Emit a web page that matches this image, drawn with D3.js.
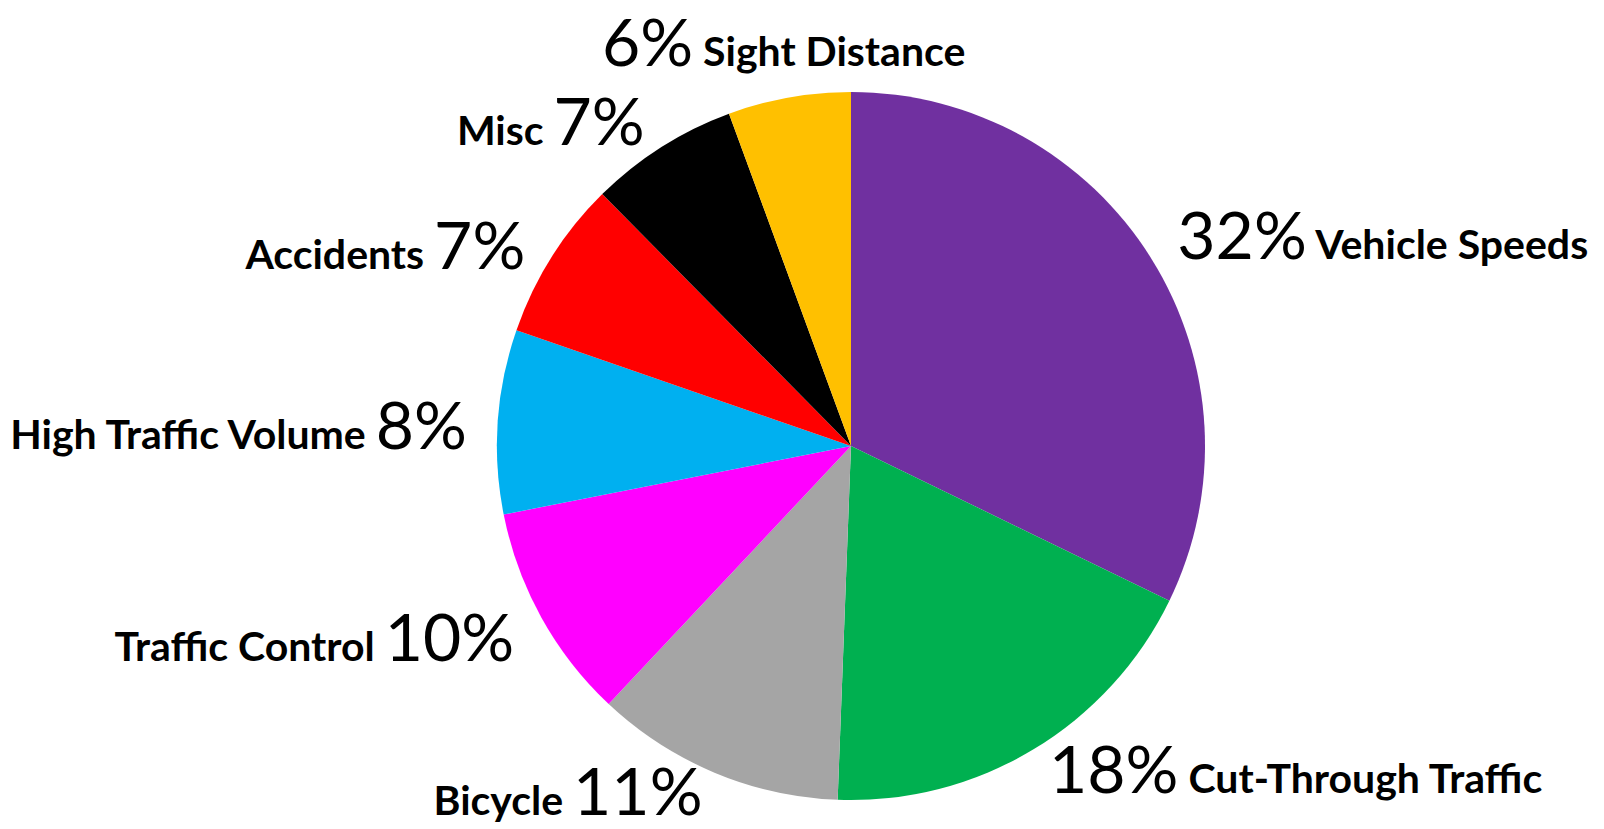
<!DOCTYPE html>
<html>
<head>
<meta charset="utf-8">
<script src="https://cdn.jsdelivr.net/npm/d3@7"></script>
<style>
  body { margin: 0; background: #fff; }
  svg { display: block; }
  .lbl { font-family: Lato, "Open Sans", sans-serif; fill: #000; }
  .lbl .name { font-weight: 700; font-size: 41px; }
  .lbl .pct { font-weight: 400; font-size: 66px; }
</style>
</head>
<body>
<div id="mainChart"></div>
<script>
// Slice data, clockwise from 12 o'clock
const categories = ["Vehicle Speeds", "Cut-Through Traffic", "Bicycle", "Traffic Control",
   "High Traffic Volume", "Accidents", "Misc", "Sight Distance"]
const shares = [32.2, 18.4, 11.4, 9.9, 8.4, 7.3, 6.8, 5.6]
const colors = ["#7030A0", "#00B050", "#A5A5A5", "#FF00FF", "#00B0F0", "#FF0000", "#000000", "#FFC000"]

const width = 1604, height = 829
const cx = 851, cy = 446, radius = 354
const labelRadius = 385

const svg = d3.select("#mainChart").append("svg")
   .attr("width", width)
   .attr("height", height)

const g = svg.append("g")
   .attr("transform", "translate(" + cx + "," + cy + ")")

const pie = d3.pie().sort(null).value(d => d.value)
const arc = d3.arc().innerRadius(0).outerRadius(radius)

const slices = pie(categories.map((c, i) => ({ name: c, value: shares[i], color: colors[i] })))

g.selectAll("path.slice").data(slices)
   .join("path")
   .attr("class", "slice")
   .attr("d", arc)
   .attr("fill", d => d.data.color)

// Labels outside the pie, along each slice's middle angle
g.selectAll("text.lbl").data(slices)
   .join("text")
   .attr("class", "lbl")
   .each(function (d) {
      const a = (d.startAngle + d.endAngle) / 2
      const s = Math.sin(a), c = Math.cos(a)
      const px = labelRadius * s, py = -labelRadius * c
      const t = d3.select(this)
      const pct = Math.round(d.data.value) + "%"

      let anchor = "middle"
      if (s > 0.3) anchor = "start"
      else if (s < -0.3) anchor = "end"

      // pct first on the right and top, last on the left
      if (anchor === "end") {
         t.append("tspan").attr("class", "name").text(d.data.name + " ")
         t.append("tspan").attr("class", "pct").text(pct)
      } else {
         t.append("tspan").attr("class", "pct").text(pct)
         t.append("tspan").attr("class", "name").text(" " + d.data.name)
      }

      let y = py + 17 + 13 * Math.max(0, -s)
      if (anchor === "middle") y = py - 27 * c + 17

      // keep the text inside the picture
      y = Math.max(y, -cy + 66)
      y = Math.min(y, height - cy - 14)

      t.attr("x", px).attr("y", y).attr("text-anchor", anchor)
   })
</script>
</body>
</html>
